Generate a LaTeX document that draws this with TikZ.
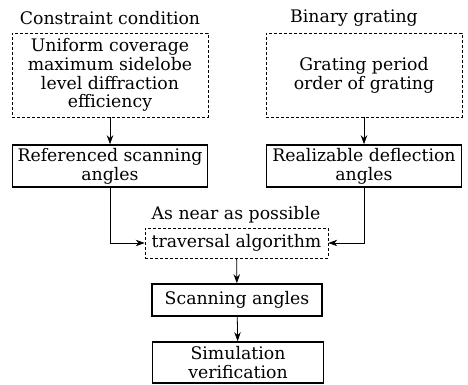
\documentclass[tikz,border=0pt]{standalone}
\usepackage{fontspec}
\setmainfont{DejaVu Serif}
\usetikzlibrary{arrows.meta}
\begin{document}
\begin{tikzpicture}[x=1pt,y=1pt,
  every node/.style={font=\fontsize{17.3}{18.8}\selectfont, inner sep=0pt, align=center},
  dbox/.style={draw, densely dashed, line width=0.7pt, minimum width=#1},
  sbox/.style={draw, line width=1.6pt, minimum width=#1},
  arr/.style={line width=0.8pt, -{Stealth[length=9pt,width=6.5pt]}}]
\useasboundingbox (0,0) rectangle (468,385);
\node (t1) at (110,367) {Constraint condition};
\node (t2) at (354,367) {Binary grating};
\node[dbox=196, minimum height=84] (b1) at (110,310) {Uniform coverage\\maximum sidelobe\\level diffraction\\efficiency};
\node[dbox=196, minimum height=84] (b2) at (364,310) {Grating period\\order of grating};
\node[sbox=195, minimum height=42] (b3) at (110,219) {Referenced scanning\\angles};
\node[sbox=195, minimum height=42] (b4) at (364,219) {Realizable deflection\\angles};
\node (near) at (236,170) {As near as possible};
\node[dbox=183, minimum height=30] (alg) at (236.5,142) {traversal algorithm};
\node[sbox=170, minimum height=32] (sc) at (237,85) {Scanning angles};
\node[sbox=171, minimum height=41] (sim) at (238,22.5) {Simulation\\verification};
\draw[arr] (b1) -- (b3);
\draw[arr] (b2) -- (b4);
\draw[arr] (b3.south) |- (alg.west);
\draw[arr] (b4.south) |- (alg.east);
\draw[arr] (alg) -- (sc);
\draw[arr] (sc) -- (sim);
\end{tikzpicture}
\end{document}
